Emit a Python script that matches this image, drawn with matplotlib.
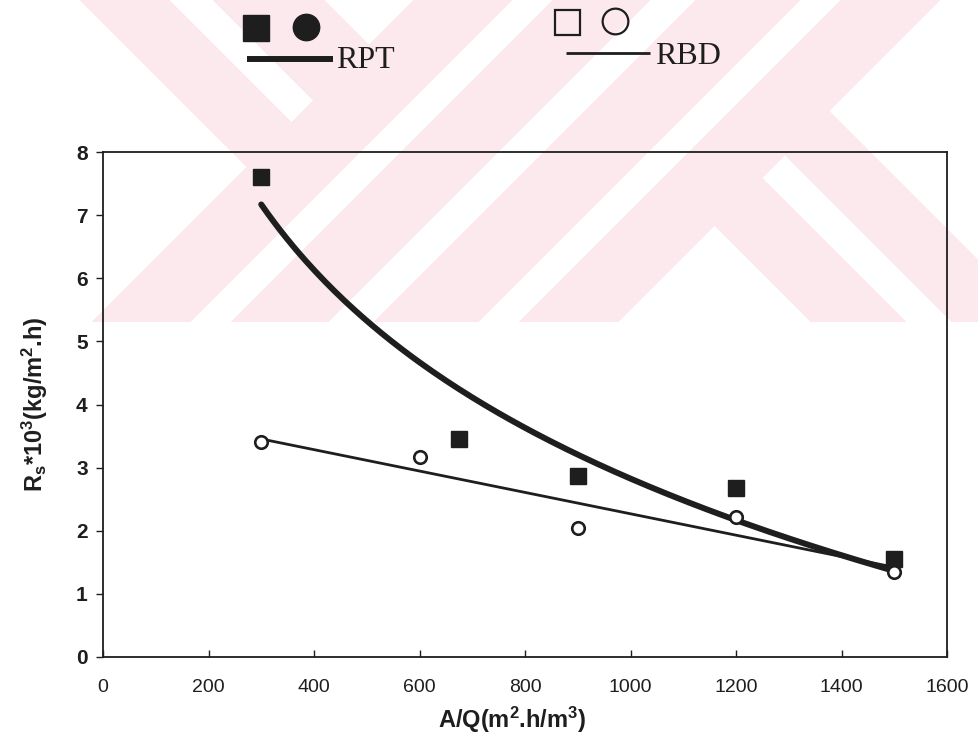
import numpy as np
import matplotlib
matplotlib.use("Agg")
import matplotlib.pyplot as plt

# ---------------- data ----------------
rpt_x = [300, 675, 900, 1200, 1500]
rpt_y = [7.60, 3.45, 2.87, 2.67, 1.56]
rbd_x = [300, 600, 900, 1200, 1500]
rbd_y = [3.41, 3.17, 2.05, 2.21, 1.35]
x_ticks = [0, 200, 400, 600, 800, 1000, 1200, 1400, 1600]
y_ticks = [0, 1, 2, 3, 4, 5, 6, 7, 8]
series_names = ["RPT", "RBD"]
x_label = "A/Q(m$^2$.h/m$^3$)"
y_label = "R$_s$*10$^3$(kg/m$^2$.h)"

plt.rcParams["font.family"] = ["Liberation Sans", "DejaVu Sans"]
plt.rcParams["mathtext.fontset"] = "custom"
plt.rcParams["mathtext.rm"] = "Liberation Sans:bold"
plt.rcParams["mathtext.it"] = "Liberation Sans:bold"
plt.rcParams["mathtext.bf"] = "Liberation Sans:bold"

W, H = 979, 744
fig = plt.figure(figsize=(W / 100, H / 100), dpi=100)
fig.patch.set_facecolor("white")

# ---------------- background watermark (decoration) ----------------
bg = fig.add_axes([0, 0, 1, 1], zorder=0)
bg.set_xlim(0, W)
bg.set_ylim(H, 0)
bg.axis("off")
yy, xx = np.mgrid[0:H, 0:W]
s = xx + yy
d = xx - yy
left = s < 413
right = s >= 940
mid = ~left & ~right
pink = np.zeros((H, W), bool)
pink |= left & (((d >= 80) & (d < 170)) | ((d >= 213) & (d < 325)))
pink |= mid & ((s < 512) | ((s >= 552) & (s < 650)) | ((s >= 695) & (s < 800)) | (s >= 840))
pink |= right & (((d >= 489) & (d < 585)) | ((d >= 630) & (d < 719)))
pink &= yy < 322
img = np.ones((H, W, 4))
img[..., 3] = 0
img[pink] = [252 / 255, 233 / 255, 237 / 255, 1]
bg.imshow(img, extent=(0, W, H, 0), interpolation="nearest", zorder=0)

# manual legend (top of figure, pixel coordinates)
ink = "#1e1e1e"
bg.plot([256], [28], marker="s", ms=19, color=ink, zorder=3)
bg.plot([306], [27], marker="o", ms=19, color=ink, zorder=3)
bg.plot([247, 333], [59, 59], color=ink, lw=4.3, solid_capstyle="butt", zorder=3)
bg.text(336, 60, series_names[0], family="Liberation Serif", fontsize=23,
        va="center", ha="left", color=ink, zorder=3)
bg.plot([567], [22], marker="s", ms=18, mfc="none", mec=ink, mew=1.6, zorder=3)
bg.plot([615], [21], marker="o", ms=18.5, mfc="none", mec=ink, mew=1.6, zorder=3)
bg.plot([566, 650], [53, 53], color=ink, lw=2, solid_capstyle="butt", zorder=3)
bg.text(655, 56, series_names[1], family="Liberation Serif", fontsize=23,
        va="center", ha="left", color=ink, zorder=3)

# ---------------- main axes ----------------
x0, x1 = 103, 947
ytop, ybot = 152, 657
ax = fig.add_axes([x0 / W, 1 - ybot / H, (x1 - x0) / W, (ybot - ytop) / H], zorder=2)
ax.set_facecolor("none")

rx = np.array(rpt_x, float)
ry = np.array(rpt_y, float)
bx = np.array(rbd_x, float)
by = np.array(rbd_y, float)

# logarithmic trend line fitted to RPT, linear trend fitted to RBD
b, a = np.polyfit(np.log(rx), ry, 1)
xs = np.linspace(rx.min(), rx.max(), 200)
ax.plot(xs, a + b * np.log(xs), color=ink, lw=4.3, solid_capstyle="round", zorder=3)
m, c = np.polyfit(bx, by, 1)
xl = np.array([bx.min(), bx.max()])
ax.plot(xl, m * xl + c, color=ink, lw=2.0, zorder=3)

ax.plot(rx, ry, ls="none", marker="s", ms=11.5, color=ink, zorder=4)
ax.plot(bx, by, ls="none", marker="o", ms=9, mfc="white", mec=ink, mew=1.9, zorder=4)

ax.set_xlim(0, 1600)
ax.set_ylim(0, 8)
ax.set_xticks(x_ticks)
ax.set_yticks(y_ticks)
ax.set_xticklabels([str(v) for v in x_ticks], fontsize=14)
ax.set_yticklabels([str(v) for v in y_ticks], fontsize=15, fontweight="bold")
ax.tick_params(axis="x", direction="in", length=5, width=1, pad=16, colors=ink)
ax.tick_params(axis="y", direction="out", length=5, width=1, pad=6, colors=ink)
for sp in ax.spines.values():
    sp.set_color(ink)
    sp.set_linewidth(1.3)

ax.set_xlabel(x_label, fontsize=17, fontweight="bold", color=ink)
ax.set_ylabel(y_label, fontsize=17, fontweight="bold", color=ink)
ax.xaxis.set_label_coords((512 - x0) / (x1 - x0), -(705 - ybot) / (ybot - ytop))
ax.yaxis.set_label_coords((50 - x0) / (x1 - x0), 0.5)

fig.savefig("out.png", dpi=100)
